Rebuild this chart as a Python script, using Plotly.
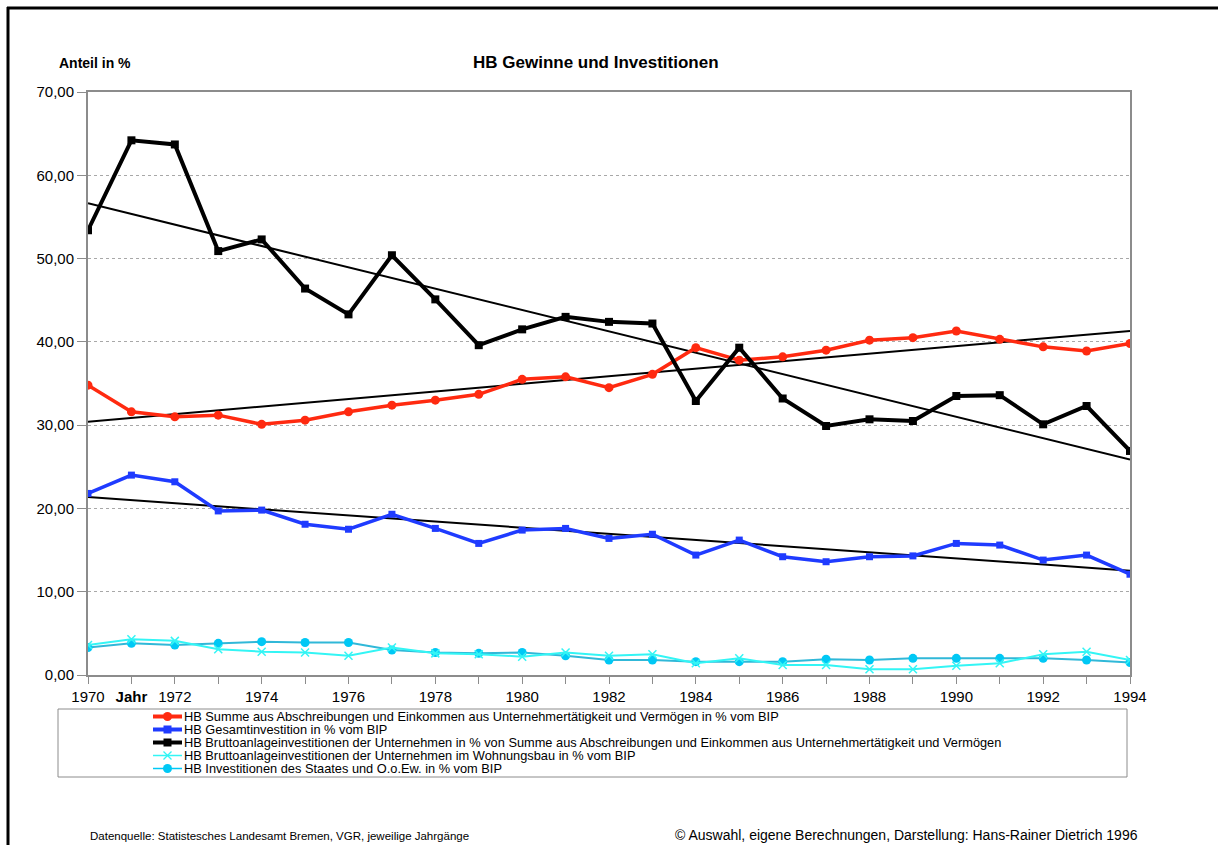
import numpy as np
import plotly.graph_objects as go

years = list(range(1970, 1995))

summe_abschr = [34.8, 31.6, 31.0, 31.2, 30.1, 30.6, 31.6, 32.4, 33.0, 33.7, 35.5, 35.8, 34.5,
                36.1, 39.3, 37.8, 38.2, 39.0, 40.2, 40.5, 41.3, 40.3, 39.4, 38.9, 39.8]
gesamtinv = [21.8, 24.0, 23.2, 19.7, 19.8, 18.1, 17.5, 19.3, 17.6, 15.8, 17.4, 17.6, 16.4,
             16.9, 14.4, 16.2, 14.2, 13.6, 14.2, 14.3, 15.8, 15.6, 13.8, 14.4, 12.1]
brutto_untern = [53.4, 64.2, 63.7, 50.9, 52.3, 46.4, 43.3, 50.4, 45.1, 39.6, 41.5, 43.0, 42.4,
                 42.2, 32.9, 39.3, 33.2, 29.9, 30.7, 30.5, 33.5, 33.6, 30.1, 32.3, 26.9]
wohnungsbau = [3.6, 4.3, 4.1, 3.1, 2.8, 2.7, 2.3, 3.3, 2.6, 2.5, 2.2, 2.7, 2.3,
               2.5, 1.4, 2.0, 1.2, 1.2, 0.7, 0.7, 1.1, 1.4, 2.5, 2.8, 1.8]
staat = [3.3, 3.8, 3.6, 3.8, 4.0, 3.9, 3.9, 3.0, 2.7, 2.6, 2.7, 2.3, 1.8,
         1.8, 1.6, 1.6, 1.6, 1.9, 1.8, 2.0, 2.0, 2.0, 2.0, 1.8, 1.5]

legend_names = [
    "HB Summe aus Abschreibungen und Einkommen aus Unternehmertätigkeit und Vermögen in % vom BIP",
    "HB Gesamtinvestition in % vom BIP",
    "HB Bruttoanlageinvestitionen der Unternehmen in % von Summe aus Abschreibungen und Einkommen aus Unternehmertätigkeit und Vermögen",
    "HB Bruttoanlageinvestitionen der Unternehmen im Wohnungsbau in % vom BIP",
    "HB Investitionen des Staates und O.o.Ew. in % vom BIP",
]

x_tickvals = years
x_ticktext = [("<b>Jahr</b>" if y == 1971 else (str(y) if y % 2 == 0 else "")) for y in years]

RED = "#FF2A10"
BLUE = "#1F3BFF"
BLACK = "#000000"
CYAN_X = "#33F5F5"
CYAN_D = "#00C8F5"

W, H = 1218, 845
L, R, T, B = 88, 1130, 92, 675


def X(px):
    return (px - L) / (R - L)


def Y(py):
    return (B - py) / (B - T)


fig = go.Figure()

yrs = np.array(years, dtype=float)
for series in (summe_abschr, brutto_untern, gesamtinv):
    k, d = np.polyfit(yrs, np.array(series), 1)
    fig.add_trace(go.Scatter(x=years, y=list(k * yrs + d), mode="lines",
                             line=dict(color=BLACK, width=2), showlegend=False,
                             hoverinfo="skip"))

fig.add_trace(go.Scatter(x=years, y=staat, mode="lines+markers", name=legend_names[4],
                         line=dict(color="#30B8D8", width=2),
                         marker=dict(symbol="circle", size=9, color=CYAN_D)))
fig.add_trace(go.Scatter(x=years, y=wohnungsbau, mode="lines+markers", name=legend_names[3],
                         line=dict(color=CYAN_X, width=2),
                         marker=dict(symbol="x-thin", size=8, line=dict(color=CYAN_X, width=1.5))))
fig.add_trace(go.Scatter(x=years, y=gesamtinv, mode="lines+markers", name=legend_names[1],
                         line=dict(color=BLUE, width=3.5),
                         marker=dict(symbol="square", size=7, color=BLUE)))
fig.add_trace(go.Scatter(x=years, y=summe_abschr, mode="lines+markers", name=legend_names[0],
                         line=dict(color=RED, width=3.5),
                         marker=dict(symbol="circle", size=9, color=RED)))
fig.add_trace(go.Scatter(x=years, y=brutto_untern, mode="lines+markers", name=legend_names[2],
                         line=dict(color=BLACK, width=4),
                         marker=dict(symbol="square", size=8, color=BLACK)))

AXC = "#8C8C8C"
fig.update_layout(
    width=W, height=H,
    margin=dict(l=L, r=W - R, t=T, b=H - B, pad=0),
    paper_bgcolor="white", plot_bgcolor="white",
    separators=",.",
    showlegend=False,
    font=dict(family="Liberation Sans, Arial, sans-serif", size=15, color="black"),
    xaxis=dict(range=[1970, 1994], tickvals=x_tickvals, ticktext=x_ticktext,
               showgrid=False, zeroline=False, showline=True, linecolor=AXC, linewidth=2,
               mirror=True, ticks="outside", ticklen=7, tickcolor=AXC, tickwidth=1,
               tickfont=dict(size=15), tickangle=0),
    yaxis=dict(range=[0, 70], dtick=10, tickformat=".2f",
               showgrid=True, gridcolor="#A8A8A8", griddash="dot", gridwidth=1,
               zeroline=False, showline=True, linecolor=AXC, linewidth=2, mirror=True,
               ticks="outside", ticklen=9, tickcolor=AXC, tickfont=dict(size=15)),
)

shapes = []
# outer black frame (top and left)
shapes.append(dict(type="line", xref="paper", yref="paper", x0=X(7), x1=X(1218), y0=Y(8), y1=Y(8),
                   line=dict(color="black", width=3)))
shapes.append(dict(type="line", xref="paper", yref="paper", x0=X(8), x1=X(8), y0=Y(7), y1=Y(845),
                   line=dict(color="black", width=3)))
# legend box
shapes.append(dict(type="rect", xref="paper", yref="paper", x0=X(58), x1=X(1127), y0=Y(709), y1=Y(777),
                   line=dict(color="#8C8C8C", width=1), fillcolor="rgba(0,0,0,0)"))

leg_styles = [
    (RED, 4, "circle", RED),
    (BLUE, 4, "square", BLUE),
    (BLACK, 4, "square", BLACK),
    (CYAN_X, 1.5, "x", CYAN_X),
    (CYAN_D, 1.5, "circle", CYAN_D),
]
leg_y = [716.5, 729.5, 742.5, 755.5, 768.5]
annotations = []
for (col, lw, sym, mcol), py, name in zip(leg_styles, leg_y, legend_names):
    shapes.append(dict(type="line", xref="paper", yref="paper", x0=X(153), x1=X(182),
                       y0=Y(py), y1=Y(py), line=dict(color=col, width=lw)))
    cx = X(167.5)
    cy = Y(py)
    if sym == "circle":
        shapes.append(dict(type="circle", xref="paper", yref="paper", xsizemode="pixel",
                           ysizemode="pixel", xanchor=cx, yanchor=cy, x0=-4.5, x1=4.5,
                           y0=-4.5, y1=4.5, fillcolor=mcol, line=dict(color=mcol, width=0)))
    elif sym == "square":
        shapes.append(dict(type="rect", xref="paper", yref="paper", xsizemode="pixel",
                           ysizemode="pixel", xanchor=cx, yanchor=cy, x0=-4, x1=4,
                           y0=-4, y1=4, fillcolor=mcol, line=dict(color=mcol, width=0)))
    else:
        shapes.append(dict(type="path", xref="paper", yref="paper", xsizemode="pixel",
                           ysizemode="pixel", xanchor=cx, yanchor=cy,
                           path="M -4 -4 L 4 4 M -4 4 L 4 -4", line=dict(color=mcol, width=1.3)))
    annotations.append(dict(xref="paper", yref="paper", x=X(183), y=Y(py), xanchor="left",
                            yanchor="middle", text=name, showarrow=False, borderpad=0,
                            font=dict(size=12.8, color="black")))

annotations += [
    dict(xref="paper", yref="paper", x=X(596), y=Y(63), xanchor="center", yanchor="middle",
         text="<b>HB Gewinne und Investitionen</b>", showarrow=False, font=dict(size=17)),
    dict(xref="paper", yref="paper", x=X(57), y=Y(63), xanchor="left", yanchor="middle",
         text="<b>Anteil in %</b>", showarrow=False, font=dict(size=14)),
    dict(xref="paper", yref="paper", x=X(88), y=Y(836), xanchor="left", yanchor="middle",
         text="Datenquelle: Statistesches Landesamt Bremen, VGR, jeweilige Jahrgänge",
         showarrow=False, font=dict(size=11.5)),
    dict(xref="paper", yref="paper", x=X(1140), y=Y(835), xanchor="right", yanchor="middle",
         text="© Auswahl, eigene Berechnungen, Darstellung: Hans-Rainer Dietrich 1996",
         showarrow=False, font=dict(size=14)),
]

fig.update_layout(shapes=shapes, annotations=annotations)
fig.write_html("out.html", config={"displayModeBar": False},
               post_script="document.body.style.margin='0px';")
